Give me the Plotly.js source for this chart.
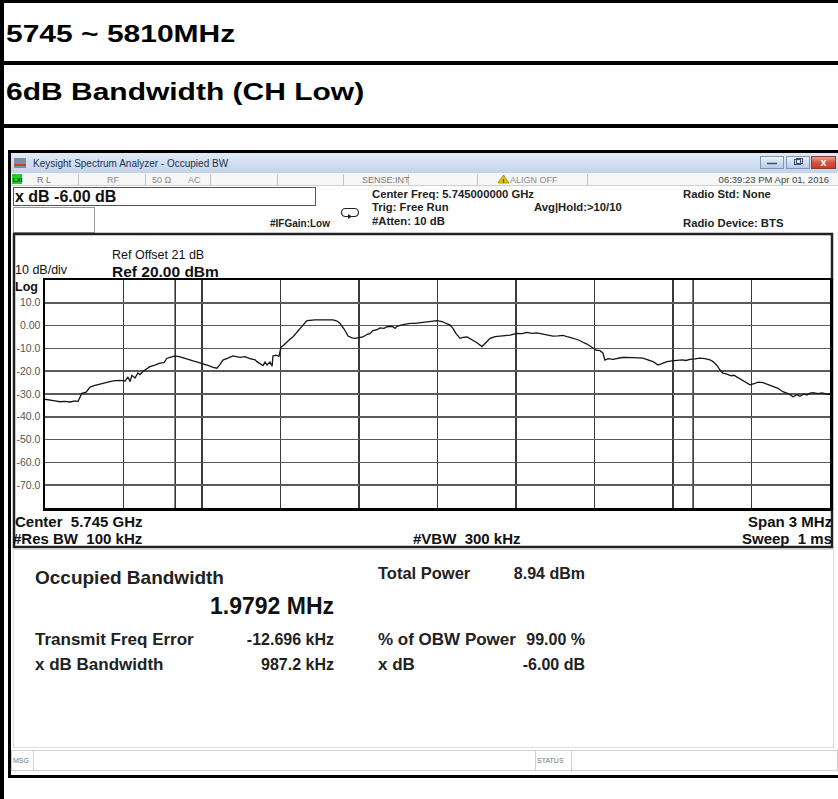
<!DOCTYPE html>
<html><head><meta charset="utf-8">
<script src="https://cdn.plot.ly/plotly-3.0.1.min.js"></script>
<style>
html,body{margin:0;padding:0;background:#fff;}
#page{position:relative;width:838px;height:799px;overflow:hidden;}
#deco{position:absolute;left:0;top:0;}
#plot{position:absolute;left:13px;top:233px;width:822px;height:317px;}
</style></head><body>
<div id="page">
<svg id="deco" width="838" height="799" xmlns="http://www.w3.org/2000/svg">
<defs>
<linearGradient id="tb" x1="0" y1="0" x2="0" y2="1"><stop offset="0" stop-color="#e2ebf7"/><stop offset="1" stop-color="#c2d3e9"/></linearGradient>
<linearGradient id="btn" x1="0" y1="0" x2="0" y2="1"><stop offset="0" stop-color="#eef4fb"/><stop offset="1" stop-color="#b4c9e4"/></linearGradient>
<linearGradient id="cls" x1="0" y1="0" x2="0" y2="1"><stop offset="0" stop-color="#eaa594"/><stop offset="0.5" stop-color="#d2553d"/><stop offset="1" stop-color="#c23c22"/></linearGradient>
</defs>
</svg>
<div id="plot"></div>
</div>
<script>
// ---------------- data ----------------
const freqOffsetKHz = [-1500,-1481,-1462,-1443,-1424,-1404,-1385,-1374,-1366,-1359,
-1343,-1328,-1309,-1290,-1267,-1240,-1213,-1194,-1183,-1175,
-1168,-1156,-1145,-1137,-1125,-1110,-1099,-1080,-1061,-1045,
-1034,-1018,-1003,-984,-957,-934,-908,-885,-869,-858,
-843,-831,-820,-801,-782,-755,-736,-717,-697,-690,
-678,-667,-659,-652,-640,-632,-629,-617,-606,-598,
-587,-575,-564,-552,-537,-525,-510,-499,-468,-430,
-399,-384,-373,-357,-342,-327,-315,-300,-285,-269,
-258,-247,-231,-220,-204,-193,-174,-162,-155,-136,
-120,-105,-86,-67,-48,-29,-2,17,36,48,
59,71,86,97,113,124,136,151,170,185,
201,220,239,258,277,304,323,342,361,380,
399,418,441,461,480,499,518,537,556,571,
590,606,621,632,640,652,671,690,705,724,
743,762,785,804,824,843,858,877,896,915,
934,950,965,984,1003,1022,1041,1053,1068,1080,
1091,1106,1122,1133,1145,1160,1175,1194,1210,1225,
1244,1263,1282,1301,1320,1340,1359,1374,1385,1401,
1412,1424,1435,1454,1469,1485,1500];
const levelDbm = [-32.3,-32.8,-33.0,-33.4,-33.2,-33.5,-33.0,-33.3,-31.5,-29.7,
-29.2,-27.0,-26.2,-25.6,-25.0,-24.2,-24.0,-24.3,-22.5,-24.5,
-21.8,-23.0,-20.8,-21.5,-20.0,-19.0,-18.0,-17.3,-16.5,-16.2,
-14.3,-13.8,-13.3,-13.7,-14.8,-15.5,-16.3,-17.0,-17.8,-18.3,
-18.7,-17.0,-15.1,-14.3,-13.3,-13.9,-13.6,-14.5,-15.0,-15.8,
-16.5,-17.5,-16.0,-17.3,-16.0,-17.8,-13.3,-13.0,-13.5,-9.5,
-8.5,-7.0,-6.0,-4.9,-2.8,-1.2,0.8,2.2,2.5,2.5,
2.5,2.0,1.0,-1.5,-4.6,-5.4,-5.6,-5.3,-5.0,-3.8,
-3.5,-2.2,-1.8,-1.0,-1.2,-0.5,-0.3,-1.2,-0.3,0.3,
0.6,1.0,1.0,1.3,1.6,2.0,2.2,1.8,1.0,0.2,
-1.2,-3.5,-5.6,-5.2,-5.0,-5.8,-6.3,-7.5,-9.2,-7.5,
-5.6,-4.8,-4.6,-4.5,-4.2,-3.4,-3.5,-3.0,-3.4,-3.2,
-3.6,-4.0,-4.6,-4.5,-4.3,-5.0,-5.6,-6.2,-7.3,-8.1,
-9.5,-10.8,-11.0,-12.0,-15.1,-14.5,-14.8,-14.2,-14.0,-13.9,
-14.0,-14.2,-14.3,-15.0,-15.8,-17.3,-16.5,-15.8,-15.5,-15.1,
-15.0,-15.3,-14.8,-14.6,-14.3,-14.5,-15.0,-15.8,-17.5,-19.5,
-20.9,-21.3,-22.0,-21.8,-22.7,-23.5,-24.8,-26.0,-25.5,-24.8,
-25.0,-25.8,-26.8,-27.5,-29.0,-29.8,-31.2,-30.3,-31.0,-30.0,
-30.5,-29.6,-29.4,-29.8,-29.5,-30.0,-30.0];
const spanKHz = 3000;
const refLevelDbm = 20;
const dbPerDiv = 10;
const occBwKHz = 1979.2;
const freqErrorKHz = -12.696;
const yTickVals = [20,10,0,-10,-20,-30,-40,-50,-60,-70,-80];
const yTickText = ['','10.0','0.00','-10.0','-20.0','-30.0','-40.0','-50.0','-60.0','-70.0',''];
const headerRows = ['5745 ~ 5810MHz','6dB Bandwidth (CH Low)'];
const measLabels = ['Transmit Freq Error','x dB Bandwidth'];
const measValues = ['-12.696 kHz','987.2 kHz'];
const measLabels2 = ['Total Power','% of OBW Power','x dB'];
const measValues2 = ['8.94 dBm','99.00 %','-6.00 dB'];

// ---------------- decoration (document table + analyzer window) ----------------
const NS='http://www.w3.org/2000/svg';
const deco=document.getElementById('deco');
const FF="'Liberation Sans', Arial, sans-serif";
function el(tag,attrs,text){const e=document.createElementNS(NS,tag);for(const k in attrs)e.setAttribute(k,attrs[k]);if(text!=null)e.textContent=text;deco.appendChild(e);return e;}
function rect(x,y,w,h,fill,stroke,sw){return el('rect',{x:x,y:y,width:w,height:h,fill:fill||'none',stroke:stroke||'none','stroke-width':sw||1});}
function line(x1,y1,x2,y2,c,w){return el('line',{x1:x1,y1:y1,x2:x2,y2:y2,stroke:c,'stroke-width':w||1});}
function txt(s,x,y,size,weight,color,anchor,extra){const a={x:x,y:y,'font-size':size,'font-weight':weight||'normal',fill:color||'#000','text-anchor':anchor||'start','font-family':FF,style:'white-space:pre'};Object.assign(a,extra||{});return el('text',a,s);}

// table
rect(0,0,838,3,'#000');
rect(0,0,4,799,'#000');
rect(0,61,838,4,'#000');
rect(0,124,838,4,'#000');
txt(headerRows[0],0,0,24,'bold','#000','start',{transform:'translate(6,42) scale(1.25,1)'});
txt(headerRows[1],0,0,24,'bold','#000','start',{transform:'translate(6,100) scale(1.25,1)'});

// analyzer window frame
rect(8,150,830,628,'#fff');
rect(8,150,830,3,'#000');
rect(8,150,3,628,'#000');
rect(8,775,830,3,'#000');
// title bar
rect(11,153,827,20,'url(#tb)');
rect(14,158,12,10,'#7d8ea3');
rect(14,164,12,2,'#d23a2a');
txt('Keysight Spectrum Analyzer - Occupied BW',33,167,10,'normal','#1d324f');
rect(760.5,156.5,23,12,'url(#btn)','#7f97b8',1);
line(767,163.5,777,163.5,'#3b4f6b',1.5);
rect(786.5,156.5,23,12,'url(#btn)','#7f97b8',1);
rect(794.5,159.5,6,5,'none','#3b4f6b',1);
rect(796.5,158.5,6,5,'none','#3b4f6b',1);
rect(811.5,156.5,24,12,'url(#cls)','#8a3a2a',1);
txt('x',823.5,166,11,'bold','#fff','middle');
// status row
rect(11,173,827,12,'#f6f6f6');
line(11,185.5,838,185.5,'#cfcfcf',1);
[78,145,210,277,343,408,477,587].forEach(function(x){line(x+0.5,174,x+0.5,185,'#c2c2c2',1);});
rect(12,174,10,10,'#22cc22');
txt('LXI',13,182,6,'bold','#0a3a0a');
txt('R L',37,183,9,'normal','#777');
txt('RF',107,183,9,'normal','#888');
txt('50 \u03a9',152,183,9,'normal','#888');
txt('AC',188,183,9,'normal','#888');
txt('SENSE:INT',362,183,9,'normal','#777');
el('polygon',{points:'498,183 503.5,175 509,183',fill:'#e8c400',stroke:'#7a6a00','stroke-width':0.6});
txt('!',503.5,182.5,6,'bold','#000','middle');
txt('ALIGN OFF',510,183,9,'normal','#888');
txt('06:39:23 PM Apr 01, 2016',829,183,9.5,'normal','#444','end');
// info area
rect(13.5,187.5,302,18,'#fff','#555',1);
txt('x dB -6.00 dB',15,202,16,'bold','#111');
rect(13.5,207.5,81,25,'#fff','#999',1);
txt('#IFGain:Low',270,227,10,'bold','#222');
el('rect',{x:341.5,y:208.5,width:17,height:8,rx:4,fill:'none',stroke:'#222','stroke-width':1.2});
el('polygon',{points:'348,214 352,216.5 348,219',fill:'#222'});
txt('Center Freq: 5.745000000 GHz',372,198,11.3,'bold','#222');
txt('Trig: Free Run',372,211,11.3,'bold','#222');
txt('#Atten: 10 dB',372,225,11.3,'bold','#222');
txt('Avg|Hold:>10/10',534,211,11.3,'bold','#222');
txt('Radio Std: None',683,198,11.3,'bold','#222');
txt('Radio Device: BTS',683,227,11.3,'bold','#222');
// graph panel (plot drawn by Plotly on top)
rect(14,234,818,313,'#fff','#222',2.5);
// measurement panel
rect(13.5,549.5,820,198,'#fff','#dcdcdc',1);
txt('Occupied Bandwidth',35,584,19,'bold','#222');
txt((occBwKHz/1000).toFixed(4)+' MHz',334,614,23,'bold','#111','end');
txt(measLabels2[0],378,579,16.5,'bold','#222');
txt(measValues2[0],585,579,16,'bold','#222','end');
txt(measLabels[0],35,645,17,'bold','#222');
txt(measValues[0],334,645,16,'bold','#222','end');
txt(measLabels2[1],378,645,17,'bold','#222');
txt(measValues2[1],585,645,16,'bold','#222','end');
txt(measLabels[1],35,670,17,'bold','#222');
txt(measValues[1],334,670,16,'bold','#222','end');
txt(measLabels2[2],378,670,17,'bold','#222');
txt(measValues2[2],585,670,16,'bold','#222','end');
// message bar
rect(11.5,750.5,826,20,'#fff','#cfcfcf',1);
line(33.5,751,33.5,770,'#cfcfcf',1);
line(535.5,751,535.5,770,'#cfcfcf',1);
line(571.5,751,571.5,770,'#cfcfcf',1);
txt('MSG',13,763,7,'normal','#777');
txt('STATUS',537,763,7,'normal','#777');

// ---------------- plot ----------------
const obwLeft = freqErrorKHz - occBwKHz/2;
const obwRight = freqErrorKHz + occBwKHz/2;
const P = {l:45,r:830,t:280,b:508};
function pxX(x){return (x-P.l)/(P.r-P.l);}
function pxY(y){return (P.b-y)/(P.b-P.t);}
function ann(text,x,y,size,anchor,bold){
  return {text: bold?'<b>'+text+'</b>':text, xref:'paper', yref:'paper', x:pxX(x), y:pxY(y),
    xanchor:anchor, yanchor:'middle', showarrow:false, borderpad:0,
    font:{family:FF,size:size,color:'#111'}};
}
const NB='\u00a0';
const annotations = [
  ann('Ref Offset 21 dB',111,255,12.5,'left',false),
  ann('Ref 20.00 dBm',111,271,15.5,'left',true),
  ann('10 dB/div',14,270,12.5,'left',false),
  ann('Log',14,286.5,12.5,'left',true),
  ann('Center'+NB+NB+'5.745 GHz',14,521.5,15,'left',true),
  ann('#Res BW'+NB+NB+'100 kHz',12,538.5,15,'left',true),
  ann('#VBW'+NB+NB+'300 kHz',467,538.5,15,'center',true),
  ann('Span 3 MHz',833,521.5,15,'right',true),
  ann('Sweep'+NB+NB+'1 ms',833,538.5,15,'right',true)
];
const shapes = [obwLeft,obwRight].map(function(f){return {type:'line',xref:'x',yref:'paper',x0:f,x1:f,y0:0,y1:1,line:{color:'#333',width:1.6},layer:'below'};});

Plotly.newPlot('plot',[{
  x: freqOffsetKHz, y: levelDbm, type:'scatter', mode:'lines',
  line:{color:'#151515',width:1.3}, hoverinfo:'skip'
}],{
  width:822, height:317,
  margin:{l:32,r:5,t:47,b:42,pad:0},
  paper_bgcolor:'rgba(0,0,0,0)', plot_bgcolor:'#fff',
  showlegend:false,
  xaxis:{range:[-spanKHz/2,spanKHz/2], tick0:-spanKHz/2, dtick:spanKHz/10, showticklabels:false,
    ticks:'', showgrid:true, gridcolor:'#3a3a3a', gridwidth:1.5, zeroline:false,
    showline:true, mirror:true, linecolor:'#000', linewidth:2.5, fixedrange:true},
  yaxis:{range:[refLevelDbm-10*dbPerDiv, refLevelDbm], tickmode:'array', tickvals:yTickVals, ticktext:yTickText,
    ticks:'', showgrid:true, gridcolor:'#5a5a5a', gridwidth:1.6, zeroline:false,
    showline:true, mirror:true, linecolor:'#000', linewidth:2.5,
    tickfont:{family:FF,size:10.5,color:'#555'}, fixedrange:true},
  shapes: shapes,
  annotations: annotations
},{staticPlot:true, displayModeBar:false});
</script>
</body></html>
